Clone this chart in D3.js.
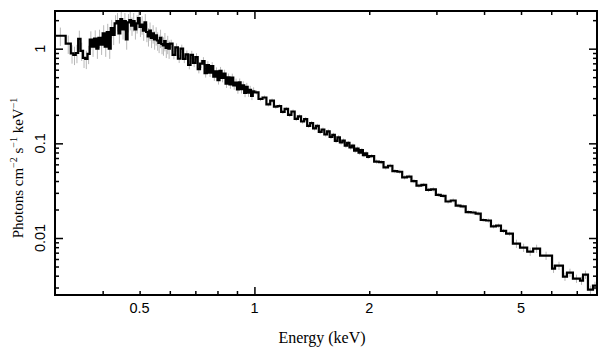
<!DOCTYPE html>
<html><head><meta charset="utf-8">
<script src="https://cdn.jsdelivr.net/npm/d3@7"></script>
<style>body{margin:0;background:#fff}</style>
</head><body><svg id="c" width="609" height="357"></svg>
<script>
// Bin edges (keV)
const binEdges = [0.30, 0.32, 0.33, 0.335, 0.34, 0.345, 0.35, 0.355, 0.36, 0.365, 0.37, 0.375, 0.38, 0.385, 0.39, 0.395, 0.40, 0.405, 0.41, 0.415, 0.42, 0.425, 0.43, 0.435, 0.44, 0.445, 0.45, 0.455, 0.46, 0.465, 0.47, 0.475, 0.48, 0.485, 0.49, 0.495, 0.50, 0.505, 0.51, 0.515, 0.52, 0.525, 0.53, 0.535, 0.54, 0.545, 0.55, 0.555, 0.56, 0.565, 0.57, 0.575, 0.58, 0.585, 0.59, 0.595, 0.60,
  0.61, 0.62, 0.63, 0.64, 0.65, 0.66, 0.67, 0.68, 0.69, 0.70, 0.71, 0.72, 0.73, 0.74, 0.75, 0.76, 0.77, 0.78, 0.79, 0.80, 0.81, 0.82, 0.83, 0.84, 0.85, 0.86, 0.87, 0.88, 0.89, 0.90, 0.91, 0.92, 0.93, 0.94, 0.95, 0.96, 0.97, 0.98, 0.99, 1.00,
  1.025, 1.05, 1.075, 1.10, 1.125, 1.15, 1.175, 1.20, 1.225, 1.25, 1.275, 1.30, 1.325, 1.35, 1.375, 1.40, 1.425, 1.45, 1.475, 1.50, 1.525, 1.55, 1.575, 1.60, 1.625, 1.65, 1.675, 1.70, 1.725, 1.75, 1.775, 1.80, 1.825, 1.85, 1.875, 1.90, 1.925, 1.95, 1.975, 2.00,
  2.06, 2.12, 2.18, 2.24, 2.30, 2.37, 2.44, 2.51, 2.58, 2.66, 2.74, 2.82, 2.90, 2.99, 3.08, 3.17, 3.27, 3.37, 3.47, 3.58, 3.69, 3.80, 3.92, 4.04, 4.17, 4.30, 4.43, 4.57, 4.76,
  4.97, 5.19, 5.38, 5.61, 6.03, 6.14, 6.44, 6.60, 6.84, 7.14, 7.27, 7.49, 7.72, 7.91];

// Flux (photons cm^-2 s^-1 keV^-1), by energy region
const fluxLow = [1.37, 1.13,
  0.89, 0.86, 0.90, 1.27, 0.95, 0.80, 0.78, 0.88, 1.25, 1.05,
  1.28, 1.00, 1.30, 1.10, 1.45, 1.05, 1.50, 1.00, 1.65, 1.40,
  1.85, 1.95, 1.45, 2.05, 1.60, 1.95, 1.25, 1.90, 2.00, 1.75,
  1.95, 1.60, 1.85, 2.10, 1.70, 1.80, 1.55, 1.90, 1.50, 1.35,
  1.55, 1.30, 1.45, 1.25, 1.38, 1.22, 1.15, 1.30, 1.12, 1.08,
  1.20, 1.02, 1.12, 1.00];
const fluxSoft = [1.131, 0.858, 1.034, 0.783, 1.003, 0.782, 0.869, 0.672, 0.862, 0.708, 0.814, 0.609, 0.694, 0.739, 0.550, 0.670, 0.558, 0.655, 0.507, 0.577, 0.464, 0.583, 0.490, 0.545, 0.427, 0.497, 0.419, 0.495, 0.409, 0.439, 0.371, 0.440, 0.373, 0.411, 0.341, 0.396, 0.344, 0.368, 0.318, 0.355];
const fluxMid = [0.346, 0.294, 0.305, 0.258, 0.283, 0.244, 0.248, 0.215, 0.231, 0.200, 0.217, 0.181, 0.193, 0.170, 0.180, 0.153, 0.164, 0.144, 0.153, 0.132, 0.140, 0.124, 0.134, 0.117, 0.123, 0.106, 0.116, 0.102, 0.107, 0.0945, 0.101, 0.0905, 0.0945, 0.0835, 0.0880, 0.0795, 0.0848, 0.0752, 0.0785, 0.0718];
const fluxHard = [0.0734, 0.0642, 0.0634, 0.0556, 0.0580, 0.0509, 0.0501, 0.0438, 0.0446, 0.0399, 0.0358, 0.0364, 0.0322, 0.0327, 0.0285, 0.0278, 0.0243, 0.0249, 0.0220, 0.0216, 0.0188, 0.0186, 0.0181, 0.0155, 0.0153, 0.0133, 0.0135, 0.0119, 0.0111];
const fluxTail = [0.00873, 0.00792, 0.00718, 0.00773, 0.00652, 0.00475, 0.00511, 0.00391, 0.00431, 0.00373, 0.00355, 0.00411, 0.00285, 0.00314];
// Relative error per region
const regionErr = [0.22, 0.10, 0.05, 0.05, 0.10];

const xTickLabels = [0.5, 1, 2, 5];
const xMajorTicks = [1];
const xMinorTicks = [0.4, 0.5, 0.6, 0.7, 0.8, 0.9, 2, 3, 4, 5, 6, 7];
const yTickLabels = [1, 0.1, 0.01];
const yMajorTicks = [0.01, 0.1, 1];
const yMinorTicks = [0.003, 0.004, 0.005, 0.006, 0.007, 0.008, 0.009, 0.02, 0.03, 0.04, 0.05, 0.06, 0.07, 0.08, 0.09, 0.2, 0.3, 0.4, 0.5, 0.6, 0.7, 0.8, 0.9, 2];

const regions = [fluxLow, fluxSoft, fluxMid, fluxHard, fluxTail];
const bins = [];
let k = 0;
regions.forEach((arr, r) => arr.forEach(v => { bins.push({lo: binEdges[k], hi: binEdges[k+1], v, e: regionErr[r]}); k++; }));

const L = 55, R = 597, T = 11, B = 295;
const x = d3.scaleLog().domain([0.3, 7.91]).range([L, R]);
const y = d3.scaleLog().domain([0.0025, 2.5]).range([B, T]);

const svg = d3.select('#c');
svg.append('defs').append('clipPath').attr('id', 'clip')
  .append('rect').attr('x', L).attr('y', T).attr('width', R - L).attr('height', B - T);

const plot = svg.append('g').attr('clip-path', 'url(#clip)');
// error bars
plot.append('g').selectAll('line').data(bins).join('line')
  .attr('x1', d => x(Math.sqrt(d.lo * d.hi))).attr('x2', d => x(Math.sqrt(d.lo * d.hi)))
  .attr('y1', d => y(d.v * (1 + d.e))).attr('y2', d => y(d.v * (1 - d.e)))
  .attr('stroke', '#b8b8b8').attr('stroke-width', 1);
// step line
const pts = bins.map(d => [d.lo, d.v]);
pts.push([bins[bins.length - 1].hi, bins[bins.length - 1].v]);
const line = d3.line().x(d => x(d[0])).y(d => y(d[1])).curve(d3.curveStepAfter);
plot.append('path').attr('d', line(pts)).attr('fill', 'none')
  .attr('stroke', '#000').attr('stroke-width', 2.2);

// ticks
function ticks(axis, vals, size, tr) {
  svg.append('g').attr('transform', tr)
    .call(axis.tickValues(vals).tickSize(size).tickFormat(''))
    .call(g => g.select('.domain').remove())
    .call(g => g.selectAll('line').attr('stroke', '#000').attr('stroke-width', 1.5));
}
ticks(d3.axisBottom(x), xMajorTicks, -8, `translate(0,${B})`);
ticks(d3.axisBottom(x), xMinorTicks, -4, `translate(0,${B})`);
ticks(d3.axisTop(x), xMajorTicks, -8, `translate(0,${T})`);
ticks(d3.axisTop(x), xMinorTicks, -4, `translate(0,${T})`);
ticks(d3.axisLeft(y), yMajorTicks, -8, `translate(${L},0)`);
ticks(d3.axisLeft(y), yMinorTicks, -4, `translate(${L},0)`);
ticks(d3.axisRight(y), yMajorTicks, -8, `translate(${R},0)`);
ticks(d3.axisRight(y), yMinorTicks, -4, `translate(${R},0)`);

// frame
svg.append('rect').attr('x', L).attr('y', T).attr('width', R - L).attr('height', B - T)
  .attr('fill', 'none').attr('stroke', '#000').attr('stroke-width', 2);

// tick labels
const sans = '"Liberation Sans", Arial, Helvetica, sans-serif';
const serif = '"Liberation Serif", "Times New Roman", serif';
svg.append('g').selectAll('text').data(xTickLabels).join('text')
  .attr('x', d => x(d)).attr('y', 313).attr('text-anchor', 'middle')
  .attr('font-family', sans).attr('font-size', 14.5).text(d => d);
svg.append('g').selectAll('text').data(yTickLabels).join('text')
  .attr('transform', d => `translate(45,${y(d)}) rotate(-90)`).attr('text-anchor', 'middle')
  .attr('font-family', sans).attr('font-size', 14.5).text(d => d);

// axis titles
svg.append('text').attr('x', 322).attr('y', 343).attr('text-anchor', 'middle')
  .attr('font-family', serif).attr('font-size', 16).text('Energy (keV)');
const yt = svg.append('text').attr('transform', 'translate(23,168) rotate(-90)')
  .attr('text-anchor', 'middle').attr('font-family', serif).attr('font-size', 15);
yt.append('tspan').text('Photons cm');
yt.append('tspan').attr('dy', -6).attr('font-size', 10).text('−2');
yt.append('tspan').attr('dy', 6).text(' s');
yt.append('tspan').attr('dy', -6).attr('font-size', 10).text('−1');
yt.append('tspan').attr('dy', 6).text(' keV');
yt.append('tspan').attr('dy', -6).attr('font-size', 10).text('−1');
</script></body></html>
